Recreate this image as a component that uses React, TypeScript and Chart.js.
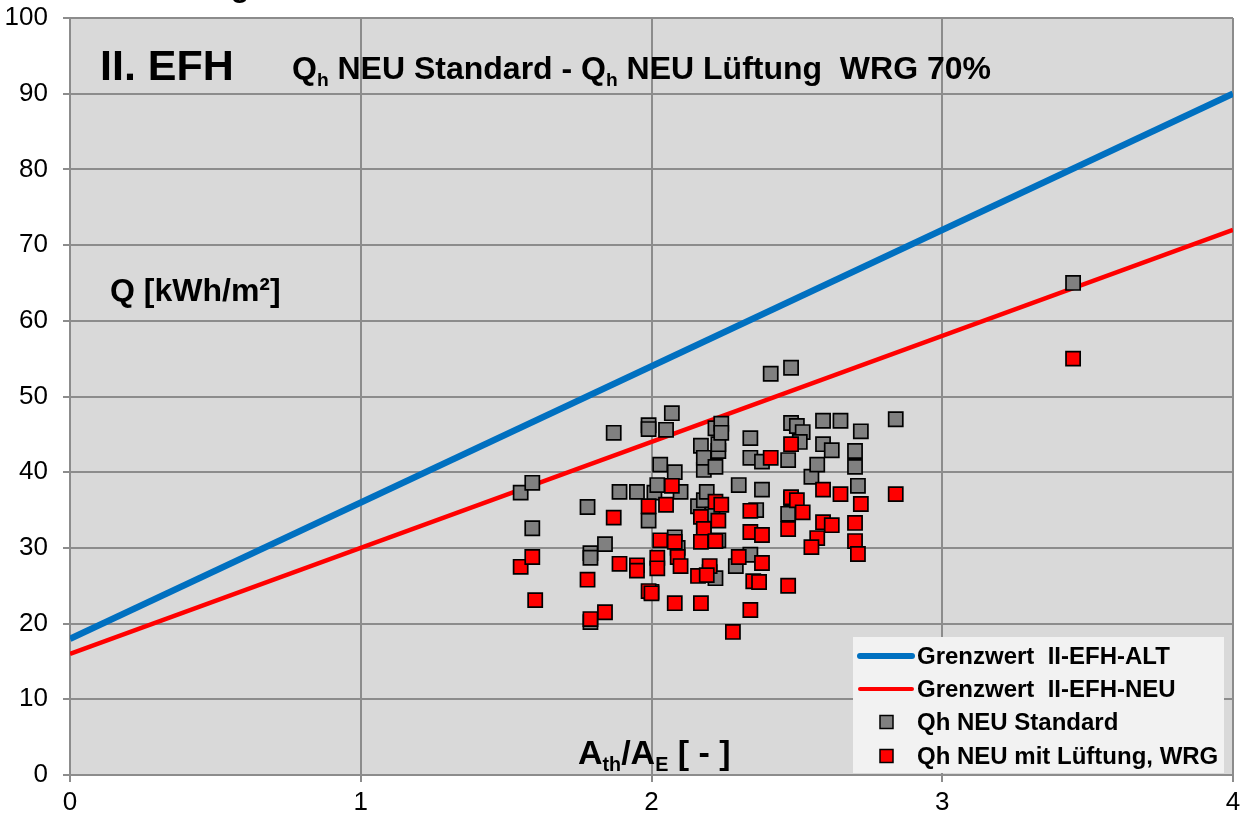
import React, { useEffect, useRef } from "react";
import { Chart, registerables } from "chart.js";

Chart.register(...registerables);

const FONT = "'Liberation Sans', Arial, Helvetica, sans-serif";

// Axis ticks
const xTickValues = [0, 1, 2, 3, 4];
const yTickValues = [0, 10, 20, 30, 40, 50, 60, 70, 80, 90, 100];

// Limit lines (Grenzwert) : x positions and y values
const limitX = [0, 4];
const limitAlt = [18, 90];
const limitNeu = [16, 72];

// Qh NEU Standard  [A/V, Q]
const standardPoints: [number, number][] = [
  [1.55, 37.3], [1.59, 38.6], [1.59, 32.6], [1.78, 35.4], [1.79, 29.3], [1.79, 28.7],
  [1.79, 20.2], [1.84, 30.5], [1.87, 45.2], [1.89, 37.4], [1.95, 37.4], [1.99, 46.2],
  [1.99, 45.7], [2.05, 45.6], [2.07, 47.8], [1.99, 33.6], [2.01, 37.3], [2.02, 38.3],
  [2.03, 41.0], [2.08, 40.0], [2.10, 37.4], [2.08, 31.4], [2.09, 30.0], [2.00, 24.2],
  [2.16, 35.5], [2.18, 36.3], [2.17, 43.5], [2.18, 40.3], [2.18, 41.9], [2.22, 40.7],
  [2.23, 42.8], [2.23, 43.7], [2.22, 45.8], [2.24, 46.4], [2.24, 45.2], [2.19, 37.4],
  [2.21, 34.4], [2.18, 32.1], [2.23, 31.0], [2.20, 26.8], [2.22, 26.0], [2.34, 44.5],
  [2.34, 41.9], [2.38, 41.4], [2.38, 37.7], [2.30, 38.3], [2.36, 35.0], [2.29, 27.6],
  [2.34, 29.1], [2.41, 53.0], [2.48, 53.8], [2.48, 46.5], [2.50, 46.1], [2.52, 45.3],
  [2.51, 44.0], [2.47, 41.6], [2.47, 34.5], [2.48, 36.5], [2.55, 39.4], [2.57, 41.0],
  [2.59, 43.7], [2.59, 46.8], [2.65, 46.8], [2.62, 42.9], [2.70, 42.8], [2.70, 40.7],
  [2.71, 38.2], [2.72, 45.4], [2.84, 47.0], [3.45, 65.0],
];

// Qh NEU mit Lüftung, WRG  [A/V, Q]
const wrgPoints: [number, number][] = [
  [1.55, 27.5], [1.59, 28.8], [1.60, 23.1], [1.78, 25.8], [1.79, 20.6], [1.84, 21.5],
  [1.87, 34.0], [1.89, 27.9], [1.95, 27.7], [1.95, 27.0], [1.99, 35.5], [2.05, 35.7],
  [2.07, 38.2], [2.03, 31.0], [2.08, 30.8], [2.02, 28.7], [2.02, 27.3], [2.09, 28.8],
  [2.10, 27.6], [1.99, 24.3], [2.00, 24.0], [2.08, 22.7], [2.17, 22.7], [2.22, 36.1],
  [2.24, 35.7], [2.17, 34.1], [2.23, 33.6], [2.18, 32.5], [2.17, 30.8], [2.22, 30.9],
  [2.20, 27.6], [2.16, 26.3], [2.19, 26.4], [2.34, 34.9], [2.34, 32.1], [2.38, 31.7],
  [2.30, 28.8], [2.38, 28.0], [2.35, 25.6], [2.37, 25.5], [2.34, 21.8], [2.28, 18.9],
  [2.41, 41.9], [2.48, 43.7], [2.48, 36.7], [2.50, 36.3], [2.52, 34.7], [2.59, 37.7],
  [2.65, 37.1], [2.72, 35.8], [2.47, 32.5], [2.59, 33.4], [2.62, 33.0], [2.70, 33.3],
  [2.57, 31.3], [2.55, 30.1], [2.70, 30.9], [2.71, 29.2], [2.47, 25.0], [2.84, 37.1],
  [3.45, 55.0],
];

const legendLabels = [
  "Grenzwert  II-EFH-ALT",
  "Grenzwert  II-EFH-NEU",
  "Qh NEU Standard",
  "Qh NEU mit Lüftung, WRG",
];

const BLUE = "#0070C0";
const RED = "#FF0000";
const GRAY = "#808080";
const GRID = "#8C8C8C";

type Seg = { t: string; sub?: boolean };

function drawRich(ctx: CanvasRenderingContext2D, x: number, y: number, segs: Seg[], size: number, subScale = 0.6) {
  let cx = x;
  for (const s of segs) {
    const fs = s.sub ? size * subScale : size;
    ctx.font = `bold ${fs}px ${FONT}`;
    ctx.fillText(s.t, cx, y + (s.sub ? size * 0.22 : 0));
    cx += ctx.measureText(s.t).width;
  }
}

const decorPlugin = {
  id: "decor",
  beforeDraw(chart: any) {
    const { ctx, chartArea: a } = chart;
    ctx.save();
    ctx.fillStyle = "#FFFFFF";
    ctx.fillRect(0, 0, chart.width, chart.height);
    ctx.fillStyle = "#D9D9D9";
    ctx.fillRect(a.left, a.top, a.right - a.left, a.bottom - a.top);
    ctx.restore();
  },
  afterDatasetsDraw(chart: any) {
    const { ctx } = chart;
    ctx.save();
    ctx.fillStyle = "#000";
    ctx.textAlign = "left";
    ctx.textBaseline = "alphabetic";

    // cut-off title at the very top
    ctx.font = `bold 30px ${FONT}`;
    ctx.fillText("g", 231, -3);

    ctx.font = `bold 43px ${FONT}`;
    ctx.fillText("II. EFH", 100, 80);

    drawRich(ctx, 292, 79, [
      { t: "Q" }, { t: "h", sub: true }, { t: " NEU Standard - " },
      { t: "Q" }, { t: "h", sub: true }, { t: " NEU Lüftung  WRG 70%" },
    ], 32);

    ctx.font = `bold 32px ${FONT}`;
    ctx.fillText("Q [kWh/m²]", 110, 301);

    drawRich(ctx, 578, 764, [
      { t: "A" }, { t: "th", sub: true }, { t: "/A" }, { t: "E", sub: true }, { t: " [ - ]" },
    ], 34, 0.58);

    // x tick labels (drawn here so that the last label does not shrink the plot area)
    const xs = chart.scales.x;
    ctx.font = `26px ${FONT}`;
    ctx.textAlign = "center";
    ctx.textBaseline = "middle";
    xTickValues.forEach((v) => ctx.fillText(String(v), xs.getPixelForValue(v), 803));

    // legend
    ctx.textAlign = "left";
    const lx = 853, ly = 637, lw = 371, lh = 136;
    ctx.fillStyle = "#F2F2F2";
    ctx.fillRect(lx, ly, lw, lh);
    const rows = [656, 689, 722, 756];
    ctx.lineCap = "round";
    ctx.strokeStyle = BLUE;
    ctx.lineWidth = 6;
    ctx.beginPath(); ctx.moveTo(860, rows[0]); ctx.lineTo(912, rows[0]); ctx.stroke();
    ctx.strokeStyle = RED;
    ctx.lineWidth = 4;
    ctx.beginPath(); ctx.moveTo(860, rows[1]); ctx.lineTo(912, rows[1]); ctx.stroke();
    ctx.lineCap = "butt";
    ctx.lineWidth = 1.5;
    ctx.strokeStyle = "#000";
    ctx.fillStyle = GRAY;
    ctx.fillRect(880, rows[2] - 6.5, 13, 13); ctx.strokeRect(880, rows[2] - 6.5, 13, 13);
    ctx.fillStyle = RED;
    ctx.fillRect(880, rows[3] - 6.5, 13, 13); ctx.strokeRect(880, rows[3] - 6.5, 13, 13);
    ctx.fillStyle = "#000";
    ctx.font = `bold 24px ${FONT}`;
    ctx.textBaseline = "middle";
    legendLabels.forEach((l, i) => ctx.fillText(l, 917, rows[i] + 1));
    ctx.restore();
  },
};

export default function App() {
  const ref = useRef<HTMLCanvasElement | null>(null);
  useEffect(() => {
    if (!ref.current) return;
    const chart = new Chart(ref.current, {
      type: "scatter",
      data: {
        datasets: [
          {
            label: legendLabels[3],
            data: wrgPoints.map(([x, y]) => ({ x, y })),
            backgroundColor: RED,
            borderColor: "#000",
            borderWidth: 1.7,
            pointStyle: "rect",
            pointRadius: 10,
            order: 0,
          },
          {
            label: legendLabels[2],
            data: standardPoints.map(([x, y]) => ({ x, y })),
            backgroundColor: GRAY,
            borderColor: "#000",
            borderWidth: 1.7,
            pointStyle: "rect",
            pointRadius: 10,
            order: 1,
          },
          {
            type: "line",
            label: legendLabels[1],
            data: limitX.map((x, i) => ({ x, y: limitNeu[i] })),
            borderColor: RED,
            borderWidth: 4.5,
            pointRadius: 0,
            showLine: true,
            order: 2,
          } as any,
          {
            type: "line",
            label: legendLabels[0],
            data: limitX.map((x, i) => ({ x, y: limitAlt[i] })),
            borderColor: BLUE,
            borderWidth: 6.5,
            pointRadius: 0,
            showLine: true,
            order: 3,
          } as any,
        ],
      },
      options: {
        responsive: false,
        animation: false,
        devicePixelRatio: 1,
        layout: { autoPadding: false, padding: { top: 18, right: 7, left: 0, bottom: 0 } },
        plugins: { legend: { display: false }, tooltip: { enabled: false } },
        scales: {
          x: {
            type: "linear",
            min: xTickValues[0],
            max: xTickValues[xTickValues.length - 1],
            afterBuildTicks: (s: any) => { s.ticks = xTickValues.map((v) => ({ value: v })); },
            afterFit: (s: any) => { s.height = 44; s.paddingLeft = 0; s.paddingRight = 0; },
            ticks: { display: false },
            grid: { color: GRID, lineWidth: 2, tickLength: 7 },
            border: { color: GRID, width: 2 },
          },
          y: {
            type: "linear",
            min: yTickValues[0],
            max: yTickValues[yTickValues.length - 1],
            afterBuildTicks: (s: any) => { s.ticks = yTickValues.map((v) => ({ value: v })); },
            afterFit: (s: any) => { s.width = 70; s.paddingTop = 0; s.paddingBottom = 0; },
            ticks: { color: "#000", font: { family: FONT, size: 26 }, padding: 15 },
            grid: { color: GRID, lineWidth: 2, tickLength: 7 },
            border: { color: GRID, width: 2 },
          },
        },
      },
      plugins: [decorPlugin],
    } as any);
    return () => chart.destroy();
  }, []);
  return (
    <div style={{ position: "absolute", left: 0, top: 0, width: 1240, height: 819, background: "#fff" }}>
      <canvas ref={ref} width={1240} height={819} style={{ display: "block" }} />
    </div>
  );
}
